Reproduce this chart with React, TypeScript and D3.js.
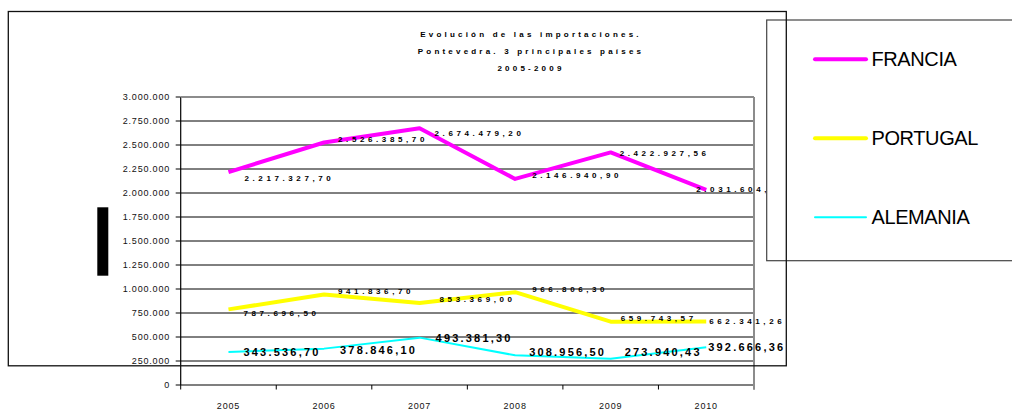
import React from "react";
import * as d3 from "d3";

const years = ["2005", "2006", "2007", "2008", "2009", "2010"];
const francia = [2217327.7, 2526385.7, 2674479.2, 2146940.9, 2422927.56, 2031604.0];
const portugal = [787696.5, 941836.7, 853369.0, 966806.3, 659743.57, 662341.26];
const alemania = [343536.7, 378846.1, 493381.3, 308956.5, 273940.43, 392666.36];
const seriesNames = ["FRANCIA", "PORTUGAL", "ALEMANIA"];
const yTickValues = [0, 250000, 500000, 750000, 1000000, 1250000, 1500000, 1750000, 2000000, 2250000, 2500000, 2750000, 3000000];
const titleLines = ["Evolución de las importaciones.", "Pontevedra. 3 principales países", "2005-2009"];

const FONT = "'Liberation Sans', Arial, Helvetica, sans-serif";

// layout
const X0 = 180.7, X1 = 754, Y0 = 385, Y1 = 97;

const loc = d3.formatLocale({ decimal: ",", thousands: ".", grouping: [3], currency: ["", ""] });
const tickFmt = loc.format(",.0f");
const labelFmt = loc.format(",.2f");

// label offsets (dx from point to label start, dy from point to label middle)
const labelOffsets = [
  [[16, 6], [14, -3.5], [15, 4.5], [17, -3.5], [9, 1], [-10, -1.3]],
  [[15, 4], [14, -3], [20, -4], [17, -3], [10, -3.4], [3, 0]],
  [[15, 0], [16, 1.5], [16, 0], [14, -3.5], [14, -7], [2, 0]],
];

const seriesStyle = [
  { color: "#FF00FF", width: 4, fontSize: 8, spacing: 3.6 },
  { color: "#FFFF00", width: 4, fontSize: 8, spacing: 3.6 },
  { color: "#00FFFF", width: 2, fontSize: 11, spacing: 2.2 },
];

export default function App() {
  const x = d3.scaleBand<string>().domain(years).range([X0, X1]).padding(0);
  const cx = (yr: string) => (x(yr) as number) + x.bandwidth() / 2;
  const y = d3.scaleLinear().domain([0, 3000000]).range([Y0, Y1]);
  const line = d3
    .line<number>()
    .x((_, i) => cx(years[i]))
    .y((d) => y(d));
  const data = [francia, portugal, alemania];
  const xTickPos = [...years.map((yr) => x(yr) as number), X1];

  return (
    <div style={{ position: "absolute", left: 0, top: 0 }}>
      <svg width={1012} height={409} style={{ display: "block", background: "#fff" }}>
        <rect x={0} y={0} width={1012} height={409} fill="#fff" />
        {/* title */}
        {titleLines.map((t, i) => (
          <text
            key={t}
            x={531}
            y={37.3 + i * 16.7}
            textAnchor="middle"
            fontFamily={FONT}
            fontWeight="bold"
            fontSize={8}
            letterSpacing={3.2}
            fill="#000"
          >
            {t}
          </text>
        ))}
        {/* gridlines */}
        {yTickValues.slice(1, -1).map((v) => (
          <line key={v} x1={X0} x2={X1} y1={y(v)} y2={y(v)} stroke="#000" strokeWidth={1} />
        ))}
        {/* y axis */}
        <line x1={X0} x2={X0} y1={Y1} y2={Y0} stroke="#000" strokeWidth={1.2} />
        {yTickValues.map((v) => (
          <g key={v}>
            <line x1={X0 - 5} x2={X0} y1={y(v)} y2={y(v)} stroke="#000" />
            <text
              x={170}
              y={y(v) + 3.3}
              textAnchor="end"
              fontFamily={FONT}
              fontSize={9}
              letterSpacing={0.8}
              fill="#111"
            >
              {tickFmt(v)}
            </text>
          </g>
        ))}
        {/* x axis */}
        <line x1={X0} x2={X1} y1={Y0} y2={Y0} stroke="#000" strokeWidth={1.2} />
        {xTickPos.map((p, i) => (
          <line key={i} x1={p} x2={p} y1={Y0} y2={Y0 + 4.5} stroke="#000" />
        ))}
        {years.map((yr) => (
          <text
            key={yr}
            x={cx(yr)}
            y={408.5}
            textAnchor="middle"
            fontFamily={FONT}
            fontSize={9}
            letterSpacing={0.8}
            fill="#111"
          >
            {yr}
          </text>
        ))}
        {/* series lines */}
        {data.map((d, si) => (
          <path
            key={si}
            d={line(d) as string}
            fill="none"
            stroke={seriesStyle[si].color}
            strokeWidth={seriesStyle[si].width}
            strokeLinejoin="round"
            strokeLinecap="butt"
          />
        ))}
        {/* data labels */}
        {data.map((d, si) => (
          <g key={si}>
            {d.map((v, i) => {
              const [dx, dy] = labelOffsets[si][i];
              const st = seriesStyle[si];
              return (
                <text
                  key={i}
                  x={cx(years[i]) + dx}
                  y={y(v) + dy + st.fontSize * 0.36}
                  fontFamily={FONT}
                  fontWeight="bold"
                  fontSize={st.fontSize}
                  letterSpacing={st.spacing}
                  fill="#000"
                >
                  {labelFmt(v)}
                </text>
              );
            })}
          </g>
        ))}
        {/* plot border (top and right, grey) */}
        <line x1={X0} x2={X1} y1={Y1} y2={Y1} stroke="#8c8c8c" strokeWidth={2} />
        <line x1={X1} x2={X1} y1={Y1} y2={Y0 + 4.5} stroke="#8c8c8c" strokeWidth={2} />
        {/* black bar (axis title placeholder) */}
        <rect x={97.3} y={207.3} width={11} height={68.4} fill="#000" />
        {/* legend box (white, covers overflowing labels) */}
        <rect x={766.7} y={20} width={260} height={240.7} fill="#fff" stroke="#444" strokeWidth={1.2} />
        {/* outer chart box */}
        <rect x={8.3} y={11.5} width={778} height={354.3} fill="none" stroke="#111" strokeWidth={1.3} />
        {/* legend entries */}
        {seriesNames.map((n, i) => {
          const ly = [59.3, 138.3, 217.3][i];
          return (
            <g key={n}>
              <line
                x1={815}
                x2={866}
                y1={ly}
                y2={ly}
                stroke={seriesStyle[i].color}
                strokeWidth={seriesStyle[i].width}
                strokeLinecap="round"
              />
              <text x={871.5} y={ly + 7} fontFamily={FONT} fontSize={20} letterSpacing={-0.4} fill="#000">
                {n}
              </text>
            </g>
          );
        })}
      </svg>
    </div>
  );
}
